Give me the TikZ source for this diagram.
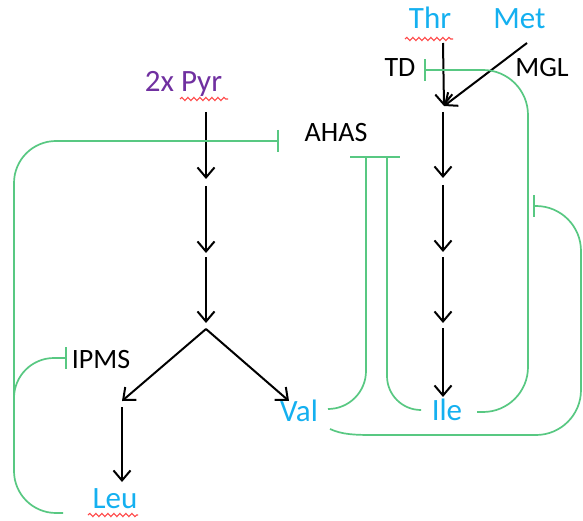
\documentclass[tikz,border=0pt]{standalone}
\usepackage{fontspec}
\setmainfont{Carlito}
\usetikzlibrary{arrows.meta,decorations.pathmorphing}
\definecolor{aablue}{RGB}{20,176,240}
\definecolor{pyrpurple}{RGB}{112,48,160}
\definecolor{regreen}{RGB}{88,200,130}
\definecolor{squiggle}{RGB}{255,70,70}
\begin{document}
\begin{tikzpicture}[x=1pt,y=-1pt,
  aa/.style={font=\fontsize{31}{36}\selectfont, text=aablue, inner sep=0pt, anchor=base},
  enz/.style={font=\fontsize{28}{32}\selectfont, text=black, inner sep=0pt, anchor=base},
  rxn/.style={draw=black, line width=2pt, -{Straight Barb[length=10pt,width=17pt]}},
  fbline/.style={draw=regreen, line width=1.7pt},
  inh/.style={fbline, -{Bar[width=22pt]}},
  spell/.style={draw=squiggle, line width=1.1pt, decorate,
                decoration={snake, segment length=6pt, amplitude=1.6pt}}]
  \useasboundingbox[fill=white] (0,0) rectangle (583,521);

  % metabolites and enzymes
  \node[aa, text=pyrpurple] (pyr) at (183.5,92) {2x Pyr};
  \node[aa] (thr) at (430,29) {Thr};
  \node[aa] (met) at (519.5,29) {Met};
  \node[aa] (val) at (299,421) {Val};
  \node[aa] (ile) at (447,420) {Ile};
  \node[aa] (leu) at (115,508) {Leu};
  \node[enz] (ahas) at (336,142) {AHAS};
  \node[enz] (td) at (400,77) {TD};
  \node[enz] (mgl) at (542,77) {MGL};
  \node[enz] (ipms) at (101,368) {IPMS};

  % spelling squiggles under the words
  \draw[spell] (180,99) -- (228,99);
  \draw[spell] (405,39) -- (453,39);
  \draw[spell] (88,515) -- (138,515);

  % pyruvate branch
  \coordinate (v0) at (206,112);
  \coordinate (v1) at (206,179);
  \coordinate (v1b) at (206,186);
  \coordinate (v2) at (206,253);
  \coordinate (v2b) at (206,257);
  \coordinate (v3) at (206,323);
  \coordinate (vb) at (206,329);
  \coordinate (lt) at (122,401);
  \coordinate (rt) at (289,401);
  \coordinate (l0) at (122,407);
  \coordinate (l1) at (122,482);
  \draw[rxn] (v0) -- (v1);
  \draw[rxn] (v1b) -- (v2);
  \draw[rxn] (v2b) -- (v3);
  \draw[rxn] (vb) -- (lt);
  \draw[rxn] (vb) -- (rt);
  \draw[rxn] (l0) -- (l1);

  % threonine branch
  \coordinate (t0) at (443,43);
  \coordinate (t1) at (444,106);
  \coordinate (t1b) at (443,112);
  \coordinate (t2) at (443,178);
  \coordinate (t2b) at (443,185);
  \coordinate (t3) at (443,252);
  \coordinate (t3b) at (443,257);
  \coordinate (t4) at (443,323);
  \coordinate (t4b) at (443,328);
  \coordinate (t5) at (443,397);
  \coordinate (m0) at (527,43);
  \draw[rxn] (t0) -- (t1);
  \draw[rxn] (m0) -- (t1);
  \draw[rxn] (t1b) -- (t2);
  \draw[rxn] (t2b) -- (t3);
  \draw[rxn] (t3b) -- (t4);
  \draw[rxn] (t4b) -- (t5);

  % feedback inhibition
  \coordinate (leuout) at (63,513);
  \coordinate (ahasbar) at (279,141);
  \coordinate (leufork) at (14,398);
  \coordinate (ipmsbar) at (67,358);
  \coordinate (valout) at (328,409);
  \coordinate (valup) at (366,157);
  \coordinate (ileoutL) at (420,410);
  \coordinate (ileup) at (387,157);
  \coordinate (ahasL) at (350,157);
  \coordinate (ahasR) at (400,157);
  \coordinate (ileoutR) at (477,412);
  \coordinate (tdbar) at (424,70);
  \coordinate (valdown) at (330,429);
  \coordinate (valflat) at (374,435);
  \coordinate (rightbar) at (533,206);

  \draw[inh, rounded corners=42] (leuout) -| (14,141) -- (ahasbar);
  \draw[inh, rounded corners=40] (leufork) |- (ipmsbar);
  \draw[fbline, rounded corners=38] (valout) -| (valup);
  \draw[fbline, rounded corners=34] (ileoutL) -| (ileup);
  \draw[fbline] (ahasL) -- (ahasR);
  \draw[inh, rounded corners=45] (ileoutR) -| (528,70) -- (tdbar);
  \draw[fbline] (valdown) .. controls (342,434.5) and (354,435) .. (valflat);
  \draw[inh, rounded corners=45] (valflat) -- (581,435) |- (rightbar);
\end{tikzpicture}
\end{document}
